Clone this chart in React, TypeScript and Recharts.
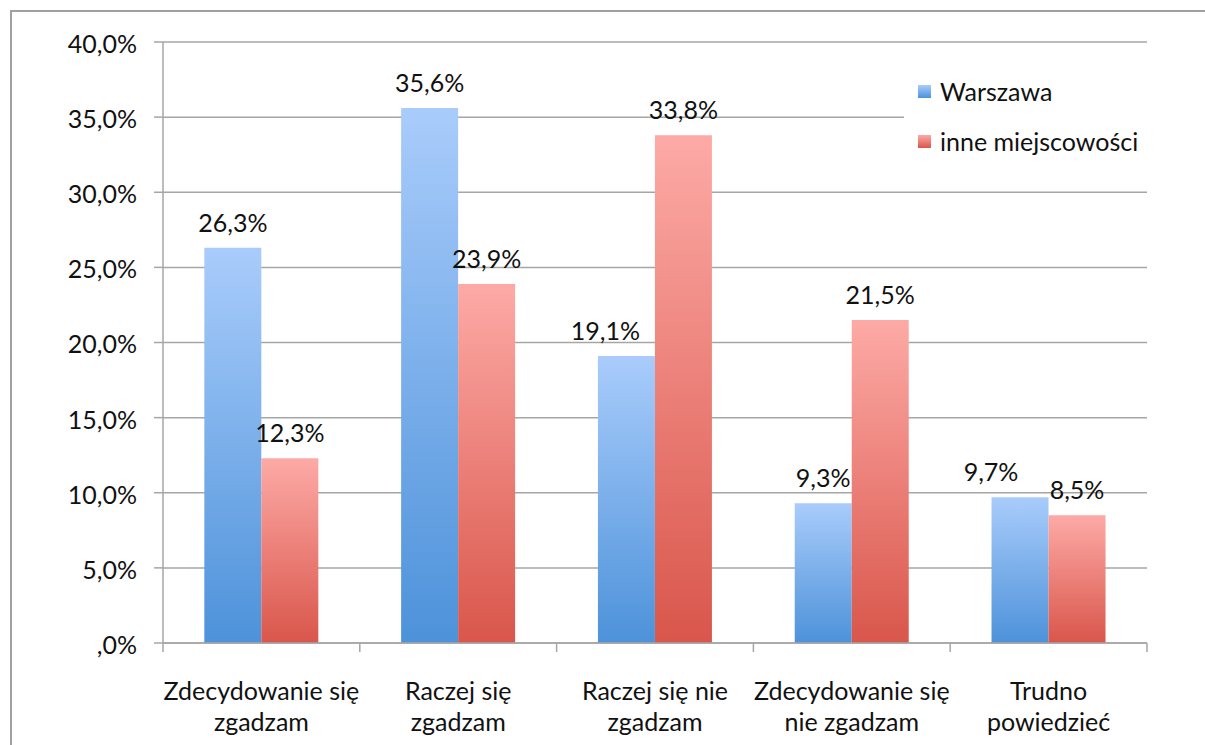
import { Bar, BarChart, CartesianGrid, LabelList, Legend, XAxis, YAxis } from 'recharts';

const categories = ['Zdecydowanie się zgadzam', 'Raczej się zgadzam', 'Raczej się nie zgadzam', 'Zdecydowanie się nie zgadzam', 'Trudno powiedzieć'];
const categoryLines = [
  ['Zdecydowanie się', 'zgadzam'],
  ['Raczej się', 'zgadzam'],
  ['Raczej się nie', 'zgadzam'],
  ['Zdecydowanie się', 'nie zgadzam'],
  ['Trudno', 'powiedzieć'],
];
const warszawa = [26.3, 35.6, 19.1, 9.3, 9.7];
const inne = [12.3, 23.9, 33.8, 21.5, 8.5];
const yTicks = [0, 5, 10, 15, 20, 25, 30, 35, 40];

const data = categories.map((name, i) => ({ name, warszawa: warszawa[i], inne: inne[i] }));

const FONT = 'Lato, "Open Sans", sans-serif';
const FS = 25;
const GRID = '#a6a6a6';
const W = 1205;
const H = 745;
const MARGIN = { top: 42, right: 58, left: 0, bottom: 0 };
const Y_W = 163;
const PLOT_W = W - Y_W - MARGIN.right;

const pct = (v: number) => (v === 0 ? ',0%' : v.toFixed(1).replace('.', ',') + '%');

function CategoryTick(props: any) {
  const { x, y, index, visibleTicksCount, width } = props;
  const band = (typeof width === 'number' ? width : PLOT_W) / visibleTicksCount;
  const lines = categoryLines[index] || [];
  return (
    <g>
      <line x1={x - band / 2} x2={x - band / 2} y1={y} y2={y + 9} stroke={GRID} strokeWidth={1.5} />
      {index === visibleTicksCount - 1 && (
        <line x1={x + band / 2} x2={x + band / 2} y1={y} y2={y + 9} stroke={GRID} strokeWidth={1.5} />
      )}
      <text x={x} y={y} textAnchor="middle" fill="#111" fontSize={FS} fontFamily={FONT}>
        <tspan x={x} dy={57}>{lines[0]}</tspan>
        <tspan x={x} dy={31}>{lines[1]}</tspan>
      </text>
    </g>
  );
}

// Warszawa labels slide left when the neighbouring bar or label is in the way (as in the original)
function ValueLabel(props: any) {
  const { x, y, width, value, index, series } = props;
  let dx = 0;
  if (series === 'warszawa') {
    const other = inne[index];
    if (other - value > 13) dx = -21;
    if (Math.abs(other - value) < 2) dx = -29;
  }
  return (
    <text x={x + width / 2 + dx} y={y - 16} textAnchor="middle" fill="#111" fontSize={FS} fontFamily={FONT}>
      {pct(value)}
    </text>
  );
}

function LegendBox() {
  const items = [
    { label: 'Warszawa', top: '#a9ccfb', bottom: '#4d92da' },
    { label: 'inne miejscowości', top: '#fdaaa6', bottom: '#d9564b' },
  ];
  return (
    <div style={{ background: '#fff', width: 270, height: 120, position: 'relative', fontFamily: FONT }}>
      {items.map((it, i) => (
        <div key={it.label} style={{ position: 'absolute', left: 14, top: 21 + i * 50, display: 'flex', alignItems: 'center', height: 30 }}>
          <svg width={13} height={13} style={{ marginRight: 9 }}>
            <defs>
              <linearGradient id={`lg${i}`} x1="0" y1="0" x2="0" y2="1">
                <stop offset="0%" stopColor={it.top} />
                <stop offset="100%" stopColor={it.bottom} />
              </linearGradient>
            </defs>
            <rect width={13} height={13} fill={`url(#lg${i})`} />
          </svg>
          <span style={{ fontSize: FS, color: '#111' }}>{it.label}</span>
        </div>
      ))}
    </div>
  );
}

export default function App() {
  return (
    <div style={{ position: 'absolute', left: 0, top: 0, width: W, height: H, background: '#fff', overflow: 'hidden' }}>
      <div
        style={{
          position: 'absolute',
          left: 10,
          top: 10,
          width: W,
          height: H,
          borderLeft: '2px solid #a0a0a0',
          borderTop: '2px solid #a0a0a0',
        }}
      />
      <div style={{ position: 'absolute', left: 0, top: 0 }}>
        <BarChart width={W} height={H} data={data} margin={MARGIN} barCategoryGap="21%" barGap={0}>
          <defs>
            <linearGradient id="gWarszawa" x1="0" y1="0" x2="0" y2="1">
              <stop offset="0%" stopColor="#a9ccfb" />
              <stop offset="100%" stopColor="#4d92da" />
            </linearGradient>
            <linearGradient id="gInne" x1="0" y1="0" x2="0" y2="1">
              <stop offset="0%" stopColor="#fdaaa6" />
              <stop offset="100%" stopColor="#d9564b" />
            </linearGradient>
          </defs>
          <CartesianGrid vertical={false} stroke={GRID} strokeWidth={1.5} />
          <XAxis
            dataKey="name"
            height={102}
            axisLine={{ stroke: GRID, strokeWidth: 1.5 }}
            tickLine={false}
            tickSize={0}
            tickMargin={0}
            interval={0}
            tick={<CategoryTick />}
          />
          <YAxis
            width={Y_W}
            domain={[0, 40]}
            ticks={yTicks}
            interval={0}
            tickFormatter={pct}
            axisLine={{ stroke: GRID, strokeWidth: 1.5 }}
            tickLine={{ stroke: GRID, strokeWidth: 1.5 }}
            tickSize={9}
            tickMargin={17}
            tick={{ fill: '#111', fontSize: FS, fontFamily: FONT, dy: 2 }}
          />
          <Legend
            layout="vertical"
            align="center"
            verticalAlign="middle"
            content={<LegendBox />}
            wrapperStyle={{ position: 'absolute', left: 904, top: 55, width: 270, height: 120 }}
          />
          <Bar dataKey="warszawa" name="Warszawa" fill="url(#gWarszawa)" isAnimationActive={false}>
            <LabelList dataKey="warszawa" content={<ValueLabel series="warszawa" />} />
          </Bar>
          <Bar dataKey="inne" name="inne miejscowości" fill="url(#gInne)" isAnimationActive={false}>
            <LabelList dataKey="inne" content={<ValueLabel series="inne" />} />
          </Bar>
        </BarChart>
      </div>
    </div>
  );
}
